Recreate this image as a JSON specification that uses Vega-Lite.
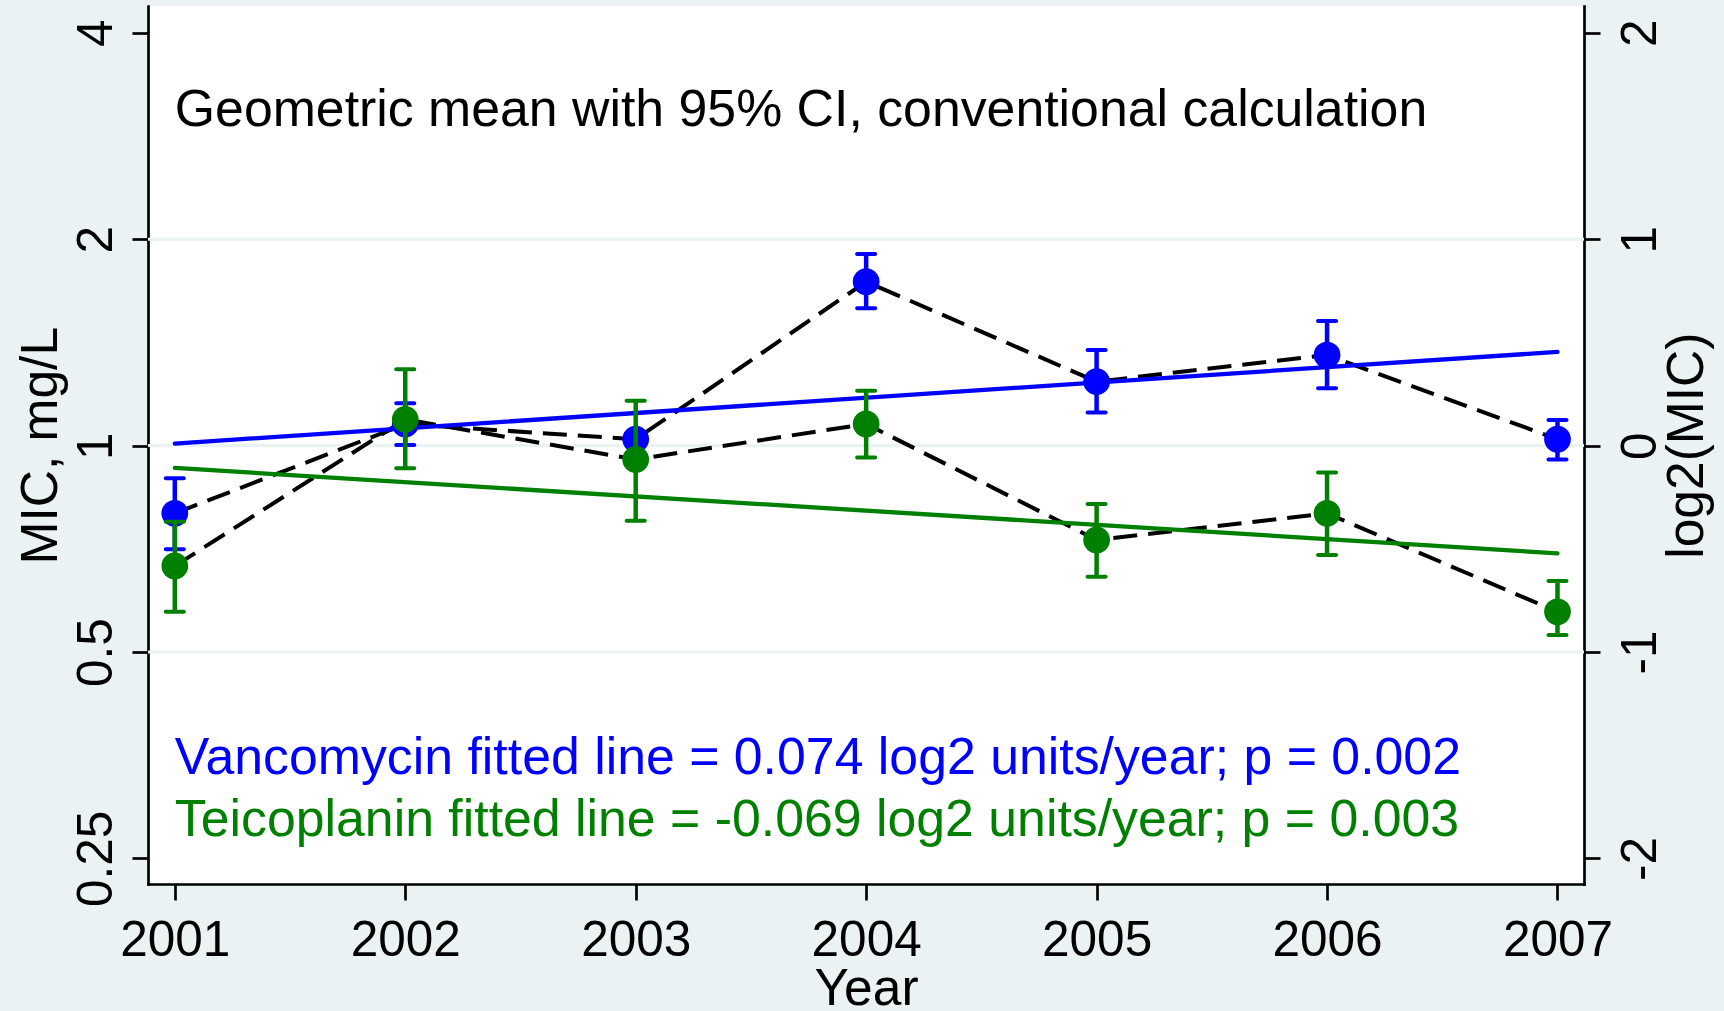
{
  "$schema": "https://vega.github.io/schema/vega-lite/v6.json",
  "width": 1436,
  "height": 878,
  "autosize": {"type": "none"},
  "padding": {"left": 148, "top": 6, "right": 140, "bottom": 127},
  "background": "#EAF2F3",
  "config": {
    "view": {"fill": "#FFFFFF", "stroke": null},
    "font": "Liberation Sans",
    "axis": {
      "domainColor": "#000000", "domainWidth": 2.7, "domainCap": "square",
      "tickColor": "#000000", "tickWidth": 2.7, "tickSize": 16,
      "labelColor": "#000000", "labelFont": "Liberation Sans", "labelFontSize": 49.5,
      "titleFont": "Liberation Sans", "titleFontSize": 51.5, "titleFontWeight": "normal", "titleColor": "#000000",
      "grid": false, "labelFlush": false, "labelOverlap": false
    }
  },
  "datasets": {
    "mic": [
      {"drug": "Vancomycin", "year": 2001, "mean": -0.328, "lo": -0.502, "hi": -0.158},
      {"drug": "Vancomycin", "year": 2002, "mean": 0.104, "lo": 0.003, "hi": 0.205},
      {"drug": "Vancomycin", "year": 2003, "mean": 0.031, "lo": 0.0, "hi": 0.062},
      {"drug": "Vancomycin", "year": 2004, "mean": 0.794, "lo": 0.665, "hi": 0.928},
      {"drug": "Vancomycin", "year": 2005, "mean": 0.310, "lo": 0.160, "hi": 0.463},
      {"drug": "Vancomycin", "year": 2006, "mean": 0.439, "lo": 0.278, "hi": 0.604},
      {"drug": "Vancomycin", "year": 2007, "mean": 0.031, "lo": -0.067, "hi": 0.124},
      {"drug": "Teicoplanin", "year": 2001, "mean": -0.583, "lo": -0.805, "hi": -0.369},
      {"drug": "Teicoplanin", "year": 2002, "mean": 0.127, "lo": -0.110, "hi": 0.370},
      {"drug": "Teicoplanin", "year": 2003, "mean": -0.067, "lo": -0.364, "hi": 0.218},
      {"drug": "Teicoplanin", "year": 2004, "mean": 0.105, "lo": -0.057, "hi": 0.266},
      {"drug": "Teicoplanin", "year": 2005, "mean": -0.457, "lo": -0.635, "hi": -0.283},
      {"drug": "Teicoplanin", "year": 2006, "mean": -0.328, "lo": -0.530, "hi": -0.130},
      {"drug": "Teicoplanin", "year": 2007, "mean": -0.805, "lo": -0.918, "hi": -0.656}
    ],
    "fit": [
      {"drug": "Vancomycin", "year": 2001, "fit": 0.010},
      {"drug": "Vancomycin", "year": 2007, "fit": 0.454},
      {"drug": "Teicoplanin", "year": 2001, "fit": -0.108},
      {"drug": "Teicoplanin", "year": 2007, "fit": -0.522}
    ],
    "notes": [
      {"drug": "note", "year": 2001, "ypos": 1.548, "label": "Geometric mean with 95% CI, conventional calculation"},
      {"drug": "Vancomycin", "year": 2001, "ypos": -1.592, "label": "Vancomycin fitted line = 0.074 log2 units/year; p = 0.002"},
      {"drug": "Teicoplanin", "year": 2001, "ypos": -1.891, "label": "Teicoplanin fitted line = -0.069 log2 units/year; p = 0.003"}
    ],
    "grid": [{"g": -1}, {"g": 0}, {"g": 1}]
  },
  "resolve": {"scale": {"y": "shared"}, "axis": {"y": "independent"}},
  "layer": [
    {
      "data": {"name": "grid"},
      "mark": {"type": "rule", "color": "#EAF2F3", "strokeWidth": 3},
      "encoding": {
        "y": {"field": "g", "type": "quantitative", "scale": {"domain": [-2.124, 2.13], "nice": false, "zero": false}, "axis": null}
      }
    },
    {
      "data": {"name": "mic"},
      "mark": {"type": "line", "color": "#000000", "strokeWidth": 4, "strokeDash": [24, 11]},
      "encoding": {
        "x": {"field": "year", "type": "quantitative", "scale": {"domain": [2000.8837, 2007.115], "nice": false, "zero": false},
          "axis": {"values": [2001, 2002, 2003, 2004, 2005, 2006, 2007], "labelExpr": "'' + datum.value", "title": "Year", "labelPadding": 55.3, "labelBaseline": "alphabetic", "labelAlign": "center", "labelAngle": 0, "titleX": 718, "titleY": 120.6, "titleBaseline": "alphabetic", "titleAlign": "center"}},
        "y": {"field": "mean", "type": "quantitative", "scale": {"domain": [-2.124, 2.13], "nice": false, "zero": false},
          "axis": {"orient": "left", "values": [-2, -1, 0, 1, 2], "labelExpr": "'' + pow(2, datum.value)", "title": "MIC, mg/L", "labelAngle": -90, "labelAlign": "center", "labelBaseline": "alphabetic", "labelPadding": 21, "titleAngle": -90, "titleAlign": "center", "titleBaseline": "alphabetic", "titleX": -91.5, "titleY": 439.2}},
        "detail": {"field": "drug"}
      }
    },
    {
      "data": {"name": "fit"},
      "mark": {"type": "line", "strokeWidth": 4.3, "strokeCap": "round"},
      "encoding": {
        "x": {"field": "year", "type": "quantitative", "scale": {"domain": [2000.8837, 2007.115], "nice": false, "zero": false}, "title": "Year"},
        "y": {"field": "fit", "type": "quantitative", "scale": {"domain": [-2.124, 2.13], "nice": false, "zero": false}, "axis": null},
        "color": {"field": "drug", "type": "nominal", "scale": {"domain": ["Vancomycin", "Teicoplanin", "note"], "range": ["#0000FF", "#008000", "#000000"]}, "legend": null}
      }
    },
    {
      "data": {"name": "mic"},
      "transform": [{"filter": "datum.drug === 'Vancomycin'"}],
      "mark": {"type": "rule", "color": "#0000FF", "strokeWidth": 4.5},
      "encoding": {
        "x": {"field": "year", "type": "quantitative", "scale": {"domain": [2000.8837, 2007.115], "nice": false, "zero": false}, "title": "Year"},
        "y": {"field": "lo", "type": "quantitative", "scale": {"domain": [-2.124, 2.13], "nice": false, "zero": false},
          "axis": {"orient": "right", "values": [-2, -1, 0, 1, 2], "labelExpr": "'' + datum.value", "title": "log2(MIC)", "labelAngle": -90, "labelAlign": "center", "labelBaseline": "alphabetic", "labelPadding": 55, "titleAngle": -90, "titleAlign": "center", "titleBaseline": "alphabetic", "titleX": 118.7, "titleY": 439.2}},
        "y2": {"field": "hi"}
      }
    },
    {
      "data": {"name": "mic"},
      "transform": [{"filter": "datum.drug === 'Vancomycin'"}, {"fold": ["lo", "hi"], "as": ["end", "val"]}],
      "mark": {"type": "tick", "orient": "horizontal", "size": 22, "thickness": 4, "color": "#0000FF", "cornerRadius": 2, "opacity": 1},
      "encoding": {
        "x": {"field": "year", "type": "quantitative", "scale": {"domain": [2000.8837, 2007.115], "nice": false, "zero": false}, "title": "Year"},
        "y": {"field": "val", "type": "quantitative", "scale": {"domain": [-2.124, 2.13], "nice": false, "zero": false}, "axis": null}
      }
    },
    {
      "data": {"name": "mic"},
      "transform": [{"filter": "datum.drug === 'Vancomycin'"}],
      "mark": {"type": "point", "shape": "circle", "filled": true, "size": 715, "opacity": 1, "color": "#0000FF"},
      "encoding": {
        "x": {"field": "year", "type": "quantitative", "scale": {"domain": [2000.8837, 2007.115], "nice": false, "zero": false}, "title": "Year"},
        "y": {"field": "mean", "type": "quantitative", "scale": {"domain": [-2.124, 2.13], "nice": false, "zero": false}, "axis": null}
      }
    },
    {
      "data": {"name": "mic"},
      "transform": [{"filter": "datum.drug === 'Teicoplanin'"}],
      "mark": {"type": "rule", "color": "#008000", "strokeWidth": 4.5},
      "encoding": {
        "x": {"field": "year", "type": "quantitative", "scale": {"domain": [2000.8837, 2007.115], "nice": false, "zero": false}, "title": "Year"},
        "y": {"field": "lo", "type": "quantitative", "scale": {"domain": [-2.124, 2.13], "nice": false, "zero": false}, "axis": null},
        "y2": {"field": "hi"}
      }
    },
    {
      "data": {"name": "mic"},
      "transform": [{"filter": "datum.drug === 'Teicoplanin'"}, {"fold": ["lo", "hi"], "as": ["end", "val"]}],
      "mark": {"type": "tick", "orient": "horizontal", "size": 22, "thickness": 4, "color": "#008000", "cornerRadius": 2, "opacity": 1},
      "encoding": {
        "x": {"field": "year", "type": "quantitative", "scale": {"domain": [2000.8837, 2007.115], "nice": false, "zero": false}, "title": "Year"},
        "y": {"field": "val", "type": "quantitative", "scale": {"domain": [-2.124, 2.13], "nice": false, "zero": false}, "axis": null}
      }
    },
    {
      "data": {"name": "mic"},
      "transform": [{"filter": "datum.drug === 'Teicoplanin'"}],
      "mark": {"type": "point", "shape": "circle", "filled": true, "size": 715, "opacity": 1, "color": "#008000"},
      "encoding": {
        "x": {"field": "year", "type": "quantitative", "scale": {"domain": [2000.8837, 2007.115], "nice": false, "zero": false}, "title": "Year"},
        "y": {"field": "mean", "type": "quantitative", "scale": {"domain": [-2.124, 2.13], "nice": false, "zero": false}, "axis": null}
      }
    },
    {
      "data": {"name": "notes"},
      "mark": {"type": "text", "align": "left", "baseline": "alphabetic", "fontSize": 51.8, "font": "Liberation Sans"},
      "encoding": {
        "x": {"field": "year", "type": "quantitative", "scale": {"domain": [2000.8837, 2007.115], "nice": false, "zero": false}, "title": "Year"},
        "y": {"field": "ypos", "type": "quantitative", "scale": {"domain": [-2.124, 2.13], "nice": false, "zero": false}, "axis": null},
        "text": {"field": "label"},
        "color": {"field": "drug", "type": "nominal", "scale": {"domain": ["Vancomycin", "Teicoplanin", "note"], "range": ["#0000FF", "#008000", "#000000"]}, "legend": null}
      }
    }
  ]
}
